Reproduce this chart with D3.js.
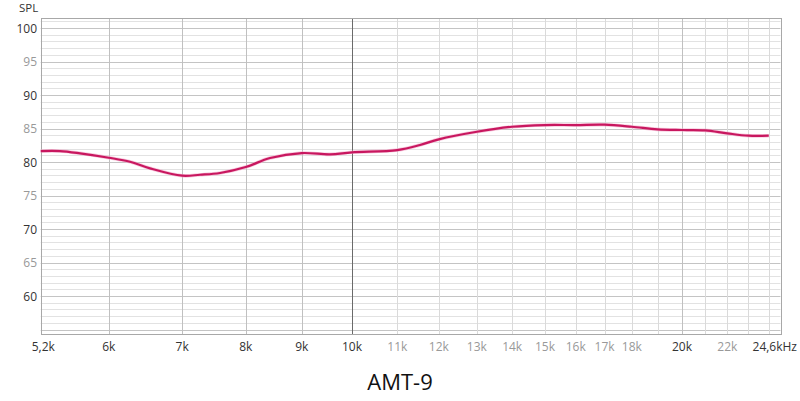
<!DOCTYPE html>
<html><head><meta charset="utf-8">
<script src="https://cdn.jsdelivr.net/npm/d3@7"></script>
<style>body{margin:0;background:#fff}</style>
</head><body>
<svg id="c" width="800" height="401"></svg>
<script>
const freqs = [5200,5415,5648,6000,6273,6542,7000,7267,7579,8000,8419,9000,9549,10000,11000,11537,12000,13000,14000,15000,16000,17000,18000,19000,20000,21000,22000,23000,24000];
const spl   = [81.64,81.64,81.3,80.64,80.04,79.06,77.96,78.1,78.36,79.25,80.6,81.34,81.15,81.45,81.79,82.54,83.39,84.52,85.27,85.52,85.52,85.57,85.27,84.88,84.78,84.73,84.28,83.93,83.93];
const xTickVals = [5200,6000,7000,8000,9000,10000,11000,12000,13000,14000,15000,16000,17000,18000,20000,22000,24600];
const xTickLabels = ["5,2k","6k","7k","8k","9k","10k","11k","12k","13k","14k","15k","16k","17k","18k","20k","22k","24,6kHz"];
const xMajor = [5200,6000,7000,8000,9000,10000,20000,24600];
const yTickVals = [60,65,70,75,80,85,90,95,100];
const title = "AMT-9";

const svg = d3.select("#c");
const L=40.7,R=780.5,T=18,B=334;
const x = d3.scaleLog().domain([5200,24600]).range([L,R]);
const y = d3.scaleLinear().domain([54.33,101.5]).range([B,T]);
const font = "'Open Sans', 'Noto Sans', sans-serif";

// minor horizontal grid
const g = svg.append("g");
for (let v=55; v<=101; v++) {
  g.append("line").attr("x1",L).attr("x2",R).attr("y1",Math.round(y(v))+0.5).attr("y2",Math.round(y(v))+0.5)
   .attr("stroke", v%5===0 ? "#c4c4c4" : "#e2e2e2").attr("stroke-width",1);
}
// vertical grid
for (let f=6000; f<=24000; f+=1000) {
  const c = f===10000 ? "#6a6a6a" : (xMajor.includes(f) ? "#c0c0c0" : "#dadada");
  g.append("line").attr("x1",Math.round(x(f))+0.5).attr("x2",Math.round(x(f))+0.5).attr("y1",T).attr("y2",B)
   .attr("stroke",c).attr("stroke-width",1);
}
// border
svg.append("rect").attr("x",Math.round(L)+0.5).attr("y",T+0.5).attr("width",Math.round(R-L)).attr("height",B-T)
  .attr("fill","none").attr("stroke","#a8a8a8");

// y labels
svg.append("g").selectAll("text").data(yTickVals).join("text")
  .attr("x",37).attr("y",d=>y(d)+4.5).attr("text-anchor","end")
  .attr("font-family",font).attr("font-size",12)
  .attr("fill",d=>d%10===0?"#333":"#999").text(d=>d);
svg.append("text").attr("x",19).attr("y",12).attr("font-family",font).attr("font-size",11.5).attr("fill","#333").text("SPL");

// x labels
const last = xTickVals.length-1;
svg.append("g").selectAll("text").data(xTickVals).join("text")
  .attr("x",(d,i)=> i===0 ? x(d)-9 : (i===last ? 797 : x(d)))
  .attr("y",351).attr("text-anchor",(d,i)=> i===0 ? "start" : (i===last ? "end" : "middle"))
  .attr("font-family",font).attr("font-size",12)
  .attr("fill",d=>xMajor.includes(d)?"#333":"#999").text((d,i)=>xTickLabels[i]);

// curve
const line = d3.line().x((d,i)=>x(freqs[i])).y(d=>y(d)).curve(d3.curveCatmullRom.alpha(0.5));
svg.append("path").datum(spl).attr("d",line).attr("fill","none").attr("stroke","#f4a6c8").attr("stroke-width",3.6).attr("stroke-opacity",0.6);
svg.append("path").datum(spl).attr("d",line).attr("fill","none").attr("stroke","#c8175f").attr("stroke-width",2.2);

svg.append("text").attr("x",400).attr("y",390).attr("text-anchor","middle").attr("font-family",font)
  .attr("font-size",22).attr("fill","#111").text(title);
</script>
</body></html>
